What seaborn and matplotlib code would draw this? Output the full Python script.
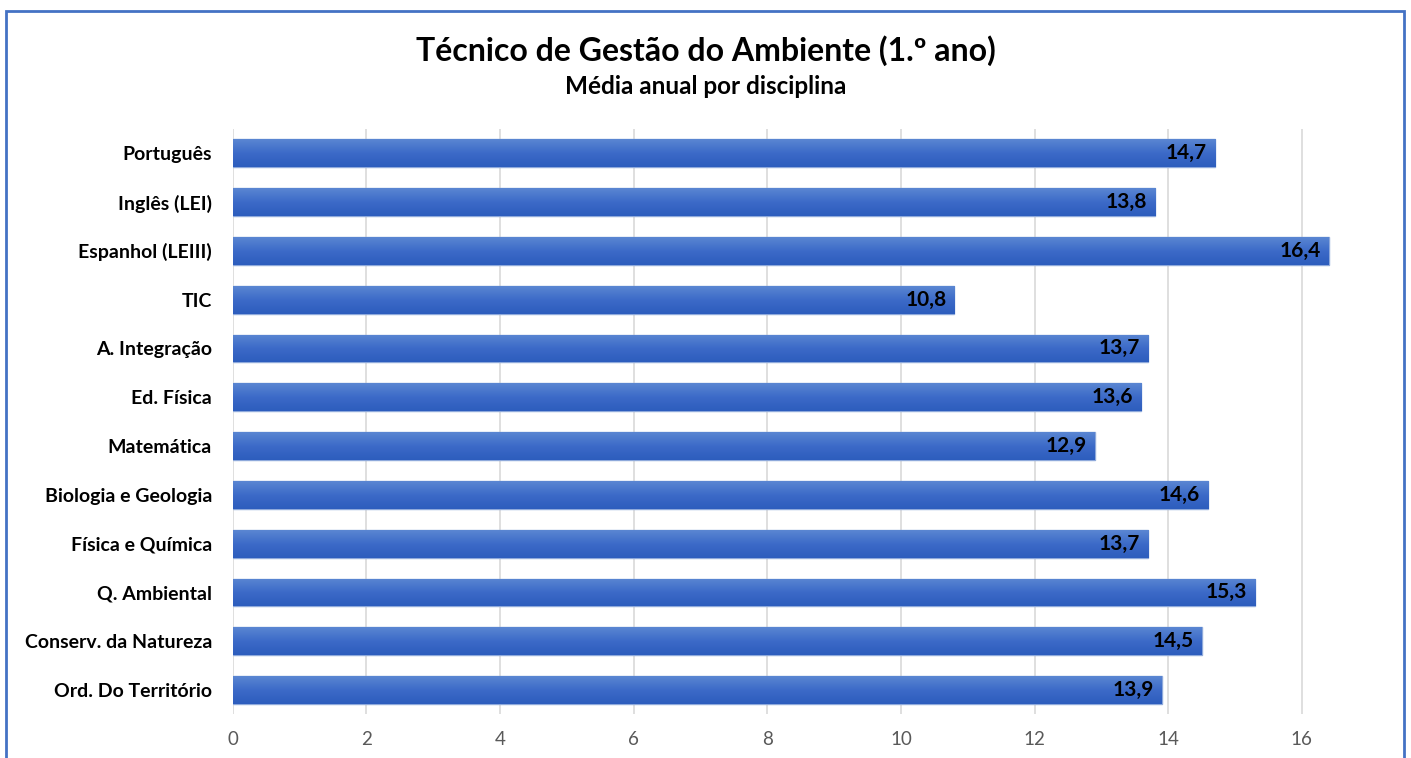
import matplotlib
matplotlib.use("Agg")
import matplotlib.pyplot as plt
import seaborn as sns
import pandas as pd
import numpy as np
from matplotlib.colors import LinearSegmentedColormap
from matplotlib.patches import Rectangle

# data
disciplinas = [
    "Português", "Inglês (LEI)", "Espanhol (LEIII)", "TIC", "A. Integração",
    "Ed. Física", "Matemática", "Biologia e Geologia", "Física e Química",
    "Q. Ambiental", "Conserv. da Natureza", "Ord. Do Território",
]
medias = [14.7, 13.8, 16.4, 10.8, 13.7, 13.6, 12.9, 14.6, 13.7, 15.3, 14.5, 13.9]
x_ticks = [0, 2, 4, 6, 8, 10, 12, 14, 16]

df = pd.DataFrame({"disciplina": disciplinas, "media": medias})

sns.set_style("white")
plt.rcParams["font.family"] = ["Lato", "DejaVu Sans"]

fig = plt.figure(figsize=(14.11, 7.58), dpi=100)
ax = fig.add_axes([0.165, 0.0575, 0.805, 0.7725])

bar_color = "#3A68C6"
sns.barplot(data=df, x="media", y="disciplina", orient="h", color=bar_color,
            width=0.57, edgecolor="#8EA9DB", linewidth=1.0, saturation=1, ax=ax)

ax.set_xlim(0, 17)
ylim = ax.get_ylim()

# vertical gradient inside each bar (lighter on top, like the original)
grad_cmap = LinearSegmentedColormap.from_list("bar", ["#5A86D2", "#3C6AC8", "#2D5DBD"])
grad = np.linspace(0, 1, 64).reshape(-1, 1)
for p in ax.patches:
    x0, y0 = p.get_x(), p.get_y()
    im = ax.imshow(grad, cmap=grad_cmap, aspect="auto", origin="upper",
                   extent=[x0, x0 + p.get_width(), y0 + p.get_height(), y0],
                   zorder=p.get_zorder() + 0.1)
    im.set_clip_path(p)
ax.set_xlim(0, 17)
ax.set_ylim(ylim)

# value labels inside the bar end
for p, v in zip(ax.patches, medias):
    ax.text(p.get_width() - 0.12, p.get_y() + p.get_height() / 2,
            f"{v:.1f}".replace(".", ","), ha="right", va="center",
            fontsize=15, fontweight="bold", color="black", zorder=5)

ax.set_xticks(x_ticks)
ax.grid(axis="x", color="#D9D9D9", linewidth=1.2)
ax.set_axisbelow(True)
for s in ax.spines.values():
    s.set_visible(False)
ax.tick_params(axis="x", length=0, labelsize=13.5, labelcolor="#595959", pad=12)
ax.tick_params(axis="y", length=0, labelsize=14, pad=15)
for lbl in ax.get_yticklabels():
    lbl.set_fontweight("bold")
    lbl.set_color("black")
ax.set_xlabel("")
ax.set_ylabel("")

fig.text(0.5, 0.933, "Técnico de Gestão do Ambiente (1.º ano)", ha="center",
         va="center", fontsize=23, fontweight="bold", color="black")
fig.text(0.5, 0.886, "Média anual por disciplina", ha="center", va="center",
         fontsize=17.5, fontweight="bold", color="black")

# chart border
fig.patches.append(Rectangle((6 / 1411, -0.05), (1404 - 6) / 1411, 1.05 - 11 / 758,
                             transform=fig.transFigure, fill=False,
                             edgecolor="#4472C4", linewidth=2))

fig.savefig("out.png", dpi=100)
